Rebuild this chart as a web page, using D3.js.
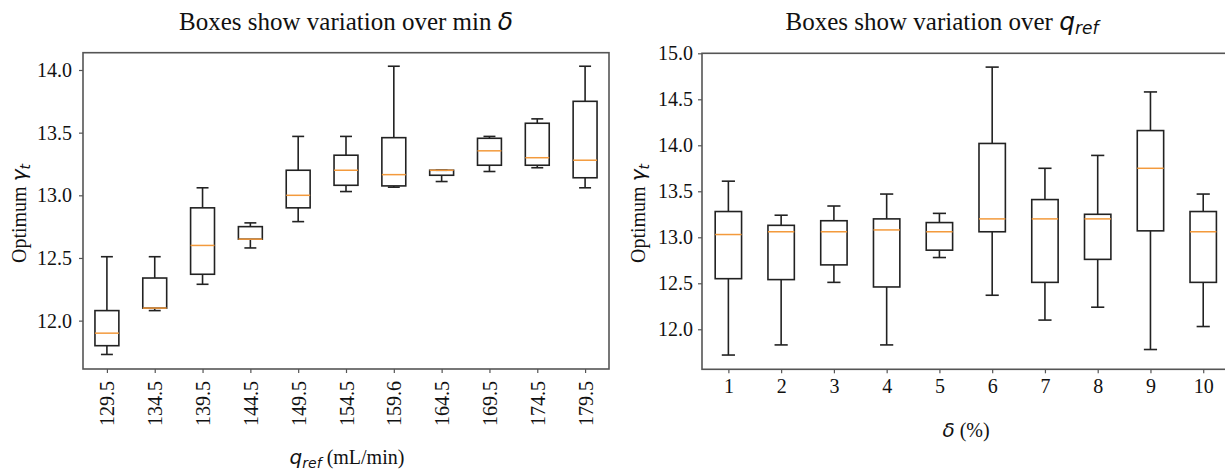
<!DOCTYPE html>
<html>
<head>
<meta charset="utf-8">
<script src="https://cdn.jsdelivr.net/npm/d3@7"></script>
<style>
  body { margin: 0; background: #fff; }
  svg { display: block; }
  text { font-family: "Liberation Serif", "Times New Roman", serif; fill: #111; }
  .math { font-family: "DejaVu Sans", sans-serif; font-style: italic; }
</style>
</head>
<body>
<svg id="chart" width="1225" height="470"></svg>
<script>
// left panel: boxes over min delta, per q_ref
var qrefCats = ["129.5","134.5","139.5","144.5","149.5","154.5","159.6","164.5","169.5","174.5","179.5"];
var qrefLo   = [11.73, 12.08, 12.29, 12.58, 12.79, 13.03, 13.065, 13.11, 13.19, 13.22, 13.06];
var qrefQ1   = [11.80, 12.10, 12.37, 12.65, 12.90, 13.08, 13.075, 13.16, 13.24, 13.24, 13.14];
var qrefMed  = [11.90, 12.10, 12.60, 12.65, 13.00, 13.20, 13.165, 13.20, 13.355, 13.30, 13.28];
var qrefQ3   = [12.08, 12.34, 12.90, 12.75, 13.20, 13.32, 13.46, 13.20, 13.455, 13.575, 13.75];
var qrefHi   = [12.51, 12.51, 13.06, 12.78, 13.47, 13.47, 14.03, 13.20, 13.47, 13.61, 14.03];
var qrefTicks = [12.0, 12.5, 13.0, 13.5, 14.0];

// right panel: boxes over q_ref, per delta
var deltaCats = ["1","2","3","4","5","6","7","8","9","10"];
var deltaLo   = [11.72, 11.83, 12.51, 11.83, 12.78, 12.37, 12.10, 12.24, 11.78, 12.03];
var deltaQ1   = [12.55, 12.54, 12.70, 12.46, 12.86, 13.06, 12.51, 12.76, 13.07, 12.51];
var deltaMed  = [13.03, 13.06, 13.06, 13.08, 13.06, 13.20, 13.20, 13.20, 13.75, 13.06];
var deltaQ3   = [13.28, 13.13, 13.18, 13.20, 13.16, 14.02, 13.41, 13.25, 14.16, 13.28];
var deltaHi   = [13.61, 13.24, 13.34, 13.47, 13.26, 14.85, 13.75, 13.89, 14.58, 13.47];
var deltaTicks = [12.0, 12.5, 13.0, 13.5, 14.0, 14.5, 15.0];

var svg = d3.select("#chart");

function boxPanel(o) {
  var n = o.cats.length;
  var x = d3.scaleLinear().domain([0.5, n + 0.5]).range([o.left, o.right]);
  var y = d3.scaleLinear().domain(o.ydom).range([o.bottom, o.top]);
  var step = x(2) - x(1);
  var g = svg.append("g");

  var rows = o.cats.map(function(c, i) {
    return {i: i + 1, lo: o.lo[i], q1: o.q1[i], med: o.med[i], q3: o.q3[i], hi: o.hi[i]};
  });

  var b = g.selectAll(".box").data(rows).enter().append("g").attr("class", "box");
  // whiskers
  b.append("line")
    .attr("x1", function(d) { return x(d.i); }).attr("x2", function(d) { return x(d.i); })
    .attr("y1", function(d) { return y(d.q3); }).attr("y2", function(d) { return y(d.hi); })
    .attr("stroke", "#222").attr("stroke-width", 1.6);
  b.append("line")
    .attr("x1", function(d) { return x(d.i); }).attr("x2", function(d) { return x(d.i); })
    .attr("y1", function(d) { return y(d.q1); }).attr("y2", function(d) { return y(d.lo); })
    .attr("stroke", "#222").attr("stroke-width", 1.6);
  // caps
  ["hi", "lo"].forEach(function(k) {
    b.append("line")
      .attr("x1", function(d) { return x(d.i) - step * 0.125; })
      .attr("x2", function(d) { return x(d.i) + step * 0.125; })
      .attr("y1", function(d) { return y(d[k]); }).attr("y2", function(d) { return y(d[k]); })
      .attr("stroke", "#222").attr("stroke-width", 1.6);
  });
  // box
  b.append("rect")
    .attr("x", function(d) { return x(d.i) - step * 0.25; })
    .attr("width", step * 0.5)
    .attr("y", function(d) { return y(d.q3); })
    .attr("height", function(d) { return Math.max(0, y(d.q1) - y(d.q3)); })
    .attr("fill", "none").attr("stroke", "#222").attr("stroke-width", 1.6);
  // median
  b.append("line")
    .attr("x1", function(d) { return x(d.i) - step * 0.25; })
    .attr("x2", function(d) { return x(d.i) + step * 0.25; })
    .attr("y1", function(d) { return y(d.med); }).attr("y2", function(d) { return y(d.med); })
    .attr("stroke", "#f39a3c").attr("stroke-width", 1.5);

  // frame
  g.append("rect")
    .attr("x", o.left).attr("y", o.top)
    .attr("width", o.right - o.left).attr("height", o.bottom - o.top)
    .attr("fill", "none").attr("stroke", "#555").attr("stroke-width", 1.6);

  // y axis
  var ya = g.append("g").attr("transform", "translate(" + o.left + ",0)")
    .call(d3.axisLeft(y).tickValues(o.yticks).tickFormat(d3.format(".1f")).tickSize(4).tickPadding(o.ypad));
  ya.select(".domain").remove();
  ya.selectAll("line").attr("stroke", "#555").attr("stroke-width", 1.2);
  ya.selectAll("text").attr("dy", "0.33em").style("font-size", "20px")
    .style("font-family", "Liberation Serif, serif").attr("fill", "#111");

  // x axis
  var xa = g.append("g").attr("transform", "translate(0," + o.bottom + ")")
    .call(d3.axisBottom(x).tickValues(d3.range(1, n + 1))
      .tickFormat(function(d) { return o.cats[d - 1]; }).tickSize(4));
  xa.select(".domain").remove();
  xa.selectAll("line").attr("stroke", "#555").attr("stroke-width", 1.2);
  var xt = xa.selectAll("text").style("font-size", "20px")
    .style("font-family", "Liberation Serif, serif").attr("fill", "#111");
  if (o.rotate) {
    xt.attr("transform", "rotate(-90)").attr("x", -12).attr("y", 0)
      .attr("dy", "0.35em").style("text-anchor", "end");
  } else {
    xt.attr("y", 24).attr("dy", 0);
  }
  return g;
}

boxPanel({
  cats: qrefCats, lo: qrefLo, q1: qrefQ1, med: qrefMed, q3: qrefQ3, hi: qrefHi,
  left: 83, right: 609, top: 52.7, bottom: 369, ydom: [11.614, 14.138],
  yticks: qrefTicks, ypad: 7, rotate: true
});
boxPanel({
  cats: deltaCats, lo: deltaLo, q1: deltaQ1, med: deltaMed, q3: deltaQ3, hi: deltaHi,
  left: 702, right: 1229.6, top: 53.3, bottom: 369.3, ydom: [11.565, 15.0],
  yticks: deltaTicks, ypad: 5, rotate: false
});

// titles
var t1 = svg.append("text").attr("x", 346).attr("y", 30).attr("text-anchor", "middle").style("font-size", "25px");
t1.append("tspan").text("Boxes show variation over min ");
t1.append("tspan").attr("class", "math").text("\u03b4");

var t2 = svg.append("text").attr("x", 942).attr("y", 30).attr("text-anchor", "middle").style("font-size", "25px");
t2.append("tspan").text("Boxes show variation over ");
t2.append("tspan").attr("class", "math").text("q");
t2.append("tspan").attr("class", "math").attr("dy", 4).style("font-size", "17px").text("ref");

// y labels
[{x: 26, y: 263}, {x: 645, y: 263}].forEach(function(p) {
  var t = svg.append("text").attr("transform", "translate(" + p.x + "," + p.y + ") rotate(-90)")
    .attr("text-anchor", "start").style("font-size", "20px");
  t.append("tspan").text("Optimum ");
  t.append("tspan").attr("class", "math").text("\u03b3");
  t.append("tspan").attr("class", "math").attr("dy", 4).style("font-size", "14px").text("t");
});

// x labels
var xl1 = svg.append("text").attr("x", 347).attr("y", 464).attr("text-anchor", "middle").style("font-size", "20px");
xl1.append("tspan").attr("class", "math").text("q");
xl1.append("tspan").attr("class", "math").attr("dy", 4).style("font-size", "14px").text("ref");
xl1.append("tspan").attr("dy", -4).text(" (mL/min)");

var xl2 = svg.append("text").attr("x", 966).attr("y", 437).attr("text-anchor", "middle").style("font-size", "20px");
xl2.append("tspan").attr("class", "math").text("\u03b4");
xl2.append("tspan").text(" (%)");
</script>
</body>
</html>
